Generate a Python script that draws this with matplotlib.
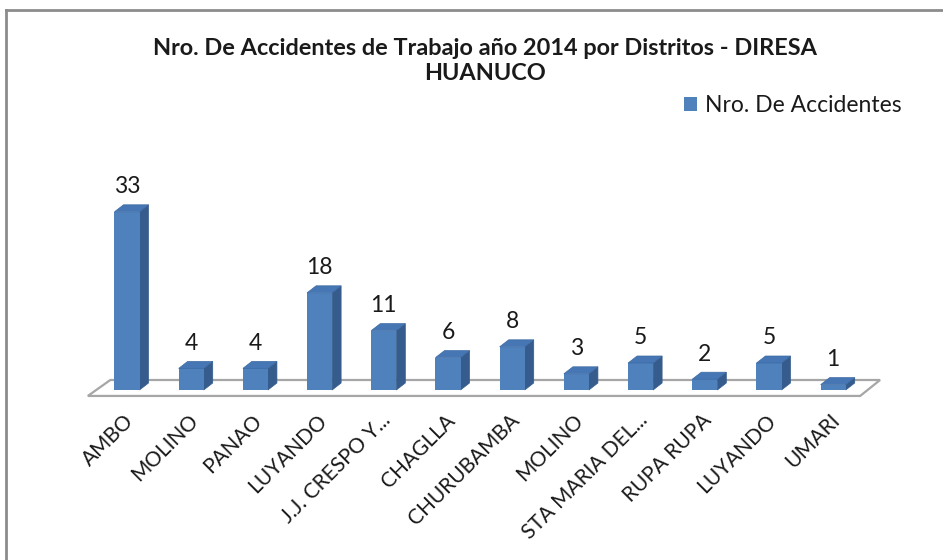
import numpy as np
import matplotlib
matplotlib.use("Agg")
from matplotlib import pyplot as plt
from matplotlib.patches import Polygon
from matplotlib.lines import Line2D

plt.rcParams['font.family'] = ['Lato', 'DejaVu Sans']

# data
distritos = ['AMBO', 'MOLINO', 'PANAO', 'LUYANDO', 'J.J. CRESPO Y...', 'CHAGLLA',
             'CHURUBAMBA', 'MOLINO', 'STA MARIA DEL...', 'RUPA RUPA', 'LUYANDO', 'UMARI']
accidentes = [33, 4, 4, 18, 11, 6, 8, 3, 5, 2, 5, 1]
serie = 'Nro. De Accidentes'
titulo = 'Nro. De Accidentes de Trabajo año 2014 por Distritos - DIRESA\nHUANUCO'

FRONT = '#4F81BD'
SIDE = '#355C8C'
TOP = '#4677B4'

W, H = 943, 560
fig = plt.figure(figsize=(W / 100, H / 100), dpi=100)

# axes placed so that category 0 sits at px 127 and value 0 at px 390
x0_px, step_px = 127, 64.2
y0_px, unit_px = 390, 5.4
xlim = (-1, 12)
ylim = (-3, 42)
left = (x0_px + xlim[0] * step_px) / W
width = (xlim[1] - xlim[0]) * step_px / W
bottom = (H - (y0_px - ylim[0] * unit_px)) / H
height = (ylim[1] - ylim[0]) * unit_px / H
ax = fig.add_axes([left, bottom, width, height])
ax.set_xlim(*xlim)
ax.set_ylim(*ylim)

x = np.arange(len(distritos))
bw = 0.39          # front face width
dx = 9 / step_px   # 3d depth
dy = 7 / unit_px

# floor
fl = [(-0.61, -1.1), (11.42, -1.1), (11.73, 1.85), (-0.26, 1.85)]
ax.add_patch(Polygon(fl, closed=True, facecolor='white', edgecolor='#a6a6a6',
                     linewidth=1.6, zorder=1))

bars = ax.bar(x, accidentes, width=bw, color=FRONT, zorder=3, label=serie)
for xi, v in zip(x, accidentes):
    r = xi + bw / 2
    l = xi - bw / 2
    side = [(r, 0), (r + dx, dy), (r + dx, v + dy), (r, v)]
    top = [(l, v), (r, v), (r + dx, v + dy), (l + dx, v + dy)]
    ax.add_patch(Polygon(side, closed=True, facecolor=SIDE, edgecolor=SIDE,
                         linewidth=0.5, zorder=2.9))
    ax.add_patch(Polygon(top, closed=True, facecolor=TOP, edgecolor='#3d6aa3',
                         linewidth=0.5, zorder=3.1))
    ax.text(xi, v + 25 / unit_px, str(v), ha='center', va='center',
            fontsize=16.5, color='#1a1a1a', zorder=5)

ax.set_xticks(x - 0.05)
ax.set_xticklabels(distritos, rotation=45, ha='right', rotation_mode='anchor',
                   fontsize=15, color='#1a1a1a')
ax.tick_params(axis='x', length=0, pad=3)
ax.set_yticks([])
for s in ax.spines.values():
    s.set_visible(False)
ax.patch.set_alpha(0)

fig.text(485 / W, 1 - 61 / H, titulo, ha='center', va='center', fontsize=16.9,
         fontweight='bold', color='#1a1a1a', linespacing=1.25)

fig.legend(handles=[bars], labels=[serie], loc='center left',
           bbox_to_anchor=(684 / W, 1 - 106 / H), frameon=False, fontsize=16.5,
           handlelength=0.55, handleheight=0.55, handletextpad=0.35,
           borderpad=0, borderaxespad=0, labelcolor='#1a1a1a')

# chart frame (only top and left edges are visible)
fig.add_artist(Line2D([6 / W, 1], [1 - 10 / H, 1 - 10 / H], color='#8c8c8c',
                      linewidth=2, transform=fig.transFigure))
fig.add_artist(Line2D([6 / W, 6 / W], [0, 1 - 10 / H], color='#8c8c8c',
                      linewidth=2, transform=fig.transFigure))

fig.savefig('out.png', dpi=100, facecolor='white')
